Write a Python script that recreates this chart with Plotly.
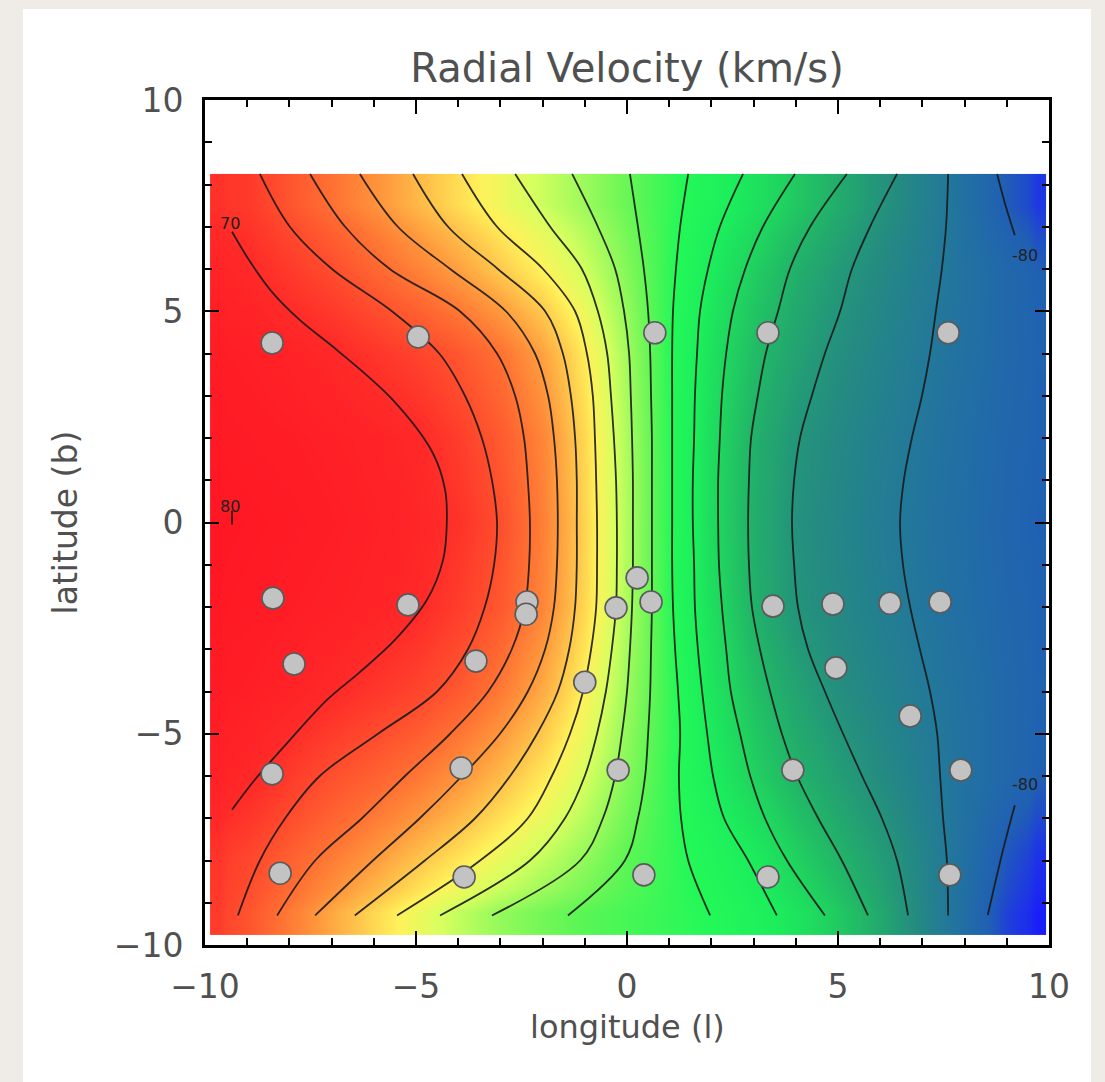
import plotly.graph_objects as go

TITLE = "Radial Velocity (km/s)"
X_TITLE = "longitude (l)"
Y_TITLE = "latitude (b)"
TICK_VALS = [-10, -5, 0, 5, 10]

# ---- velocity map (km/s) sampled on a grid (cell edges + values) ----
LON_EDGES = [-9.88, -9.5, -8.5, -7.5, -6.5, -5.5, -4.5, -3.5, -2.5, -1.5, -0.5,
             0.5, 1.5, 2.5, 3.5, 4.5, 5.5, 6.5, 7.5, 8.5, 9.5, 9.93]
LAT_EDGES = [-9.75, -8.7, -7, -5, -3, -1, 1, 3, 5, 6.8, 8.25]
VEL_GRID = [
    [65, 57.6, 46.8, 35.9, 25.5, 15.6, 6.5, -1.1, -6.7, -11.2, -14.2, -17.1, -20.2, -26.5, -33.9, -43, -53.1, -64.1, -74.1, -84.5, -91],
    [67, 62, 54.5, 47.2, 39.8, 31.7, 24, 15.9, 7.5, -1, -10.3, -16.8, -23.7, -31.3, -41.2, -49.6, -57, -65.1, -73.3, -81.3, -87],
    [75, 71.5, 65, 58.7, 53.7, 48.1, 40.7, 32, 22.2, 10, -3.9, -17.1, -29.5, -40.8, -49.7, -56.3, -62.3, -67.7, -72.4, -76.6, -79.5],
    [78, 76.5, 74, 70.5, 66.3, 62.1, 55.9, 46.9, 35.1, 19.3, 0, -16.6, -33.2, -45.8, -54.7, -61.2, -65.3, -69.3, -73, -76.5, -78.5],
    [79.5, 78.5, 77, 75.5, 73.5, 70.8, 64.2, 56.2, 43.9, 25.4, 3.2, -18.2, -36.1, -50.4, -59.5, -63.6, -67.3, -70.8, -74, -77, -79],
    [80.3, 79.5, 78.5, 77, 75, 72.5, 67.7, 59, 45.5, 26.2, 3.7, -18.5, -37.3, -51.2, -60.4, -64.3, -68.2, -71.5, -74.5, -77.5, -79.5],
    [79, 78, 77, 75.5, 73.5, 71, 64.1, 55.6, 43.8, 25.1, 2.8, -18.5, -36.7, -50.5, -59.1, -63.4, -67.2, -70.7, -74, -77, -79],
    [77.5, 76.2, 74, 71, 66.7, 62.4, 56.7, 49.1, 37.3, 20.9, 1.0, -18.7, -34.9, -46.9, -55.1, -61.2, -65.3, -69.3, -73, -76.5, -78.5],
    [74, 71, 65.5, 60, 52.8, 45.7, 38.3, 29.4, 20.1, 9.1, -4.1, -17.9, -30.9, -41.9, -51, -57.8, -63.1, -67.8, -72.3, -76.5, -79.5],
    [68, 65.4, 57.2, 49.1, 41, 32.7, 24.4, 16.1, 8, 0, -8.5, -17, -25.9, -34.7, -43.4, -51.8, -59.5, -66.2, -73.1, -80.5, -86],
]

# ---- iso-velocity lines ----
ISO_LAT = [8.25, 7.0, 6.0, 5.0, 4.0, 3.0, 2.0, 1.0, 0.0, -1.0, -2.0, -3.0, -4.0, -5.0, -6.0, -7.0, -8.0, -9.3]
ISO_LON = {
    60:  [-8.70, -7.99, -6.99, -5.57, -4.45, -3.84, -3.44, -3.20, -3.08, -3.15, -3.37, -3.77, -4.50, -5.90, -7.28, -8.10, -8.70, -9.22],
    50:  [-7.51, -6.68, -5.62, -3.96, -3.08, -2.65, -2.44, -2.35, -2.30, -2.32, -2.42, -2.73, -3.29, -4.19, -5.26, -6.28, -7.39, -8.29],
    40:  [-6.33, -5.43, -4.19, -2.87, -2.18, -1.87, -1.73, -1.66, -1.64, -1.66, -1.73, -1.94, -2.35, -3.01, -3.91, -4.91, -6.02, -7.39],
    30:  [-5.07, -4.24, -3.06, -1.94, -1.52, -1.33, -1.23, -1.19, -1.19, -1.19, -1.23, -1.37, -1.64, -2.13, -2.77, -3.60, -4.79, -6.45],
    20:  [-3.91, -3.08, -1.99, -1.23, -0.95, -0.81, -0.76, -0.73, -0.71, -0.71, -0.73, -0.85, -1.04, -1.35, -1.78, -2.35, -3.48, -5.45],
    10:  [-2.65, -1.82, -1.07, -0.69, -0.47, -0.38, -0.31, -0.26, -0.24, -0.24, -0.26, -0.36, -0.50, -0.71, -1.00, -1.47, -2.30, -4.43],
    0:   [-1.30, -0.69, -0.28, -0.07, 0.05, 0.09, 0.12, 0.14, 0.14, 0.14, 0.12, 0.07, 0.00, -0.12, -0.28, -0.57, -1.11, -3.20],
    -10: [0.07, 0.26, 0.40, 0.50, 0.55, 0.57, 0.59, 0.59, 0.59, 0.59, 0.59, 0.57, 0.55, 0.50, 0.43, 0.26, -0.05, -1.40],
    -20: [1.45, 1.26, 1.16, 1.09, 1.07, 1.07, 1.07, 1.07, 1.07, 1.07, 1.09, 1.14, 1.21, 1.26, 1.23, 1.28, 1.45, 1.97],
    -30: [2.75, 2.20, 1.92, 1.73, 1.66, 1.61, 1.59, 1.56, 1.56, 1.59, 1.61, 1.68, 1.78, 1.90, 2.04, 2.30, 2.87, 3.55],
    -40: [3.98, 3.22, 2.80, 2.51, 2.35, 2.25, 2.20, 2.16, 2.16, 2.18, 2.25, 2.35, 2.46, 2.68, 2.92, 3.27, 3.79, 4.69],
    -50: [5.21, 4.34, 3.86, 3.58, 3.29, 3.10, 2.94, 2.89, 2.87, 2.89, 2.96, 3.15, 3.39, 3.67, 4.03, 4.53, 5.09, 5.71],
    -60: [6.40, 5.76, 5.33, 5.05, 4.69, 4.38, 4.10, 3.96, 3.91, 3.96, 4.05, 4.29, 4.69, 5.12, 5.57, 6.04, 6.40, 6.66],
    -70: [7.61, 7.56, 7.46, 7.32, 7.18, 6.99, 6.75, 6.56, 6.47, 6.54, 6.71, 6.94, 7.18, 7.35, 7.42, 7.49, 7.58, 7.61],
}
ISO70_LON = [-9.36, -8.93, -8.39, -7.75, -6.87, -5.55, -4.60, -4.31, -4.27, -4.36, -4.74, -5.50, -6.33, -7.11, -7.99, -8.82, -9.36]
ISO70_LAT = [6.88, 6.17, 5.43, 4.79, 4.08, 2.90, 1.64, 0.77, -0.01, -0.89, -1.83, -2.78, -3.54, -4.20, -5.15, -6.09, -6.80]
ISO80_LON = [-9.36, -9.36]
ISO80_LAT = [0.28, -0.05]
ISO_M80_TOP_LON = [8.77, 8.96, 9.19]
ISO_M80_TOP_LAT = [8.25, 7.54, 6.80]
ISO_M80_BOT_LON = [9.19, 8.91, 8.55]
ISO_M80_BOT_LAT = [-6.69, -7.75, -9.29]

LABEL_TEXT = ["70", "80", "-80", "-80"]
LABEL_LON = [-9.41, -9.41, 9.43, 9.43]
LABEL_LAT = [7.07, 0.37, 6.31, -6.19]

# ---- observed fields ----
FIELD_L = [-8.41, -4.95, 0.66, 3.34, 7.61, 0.24, -8.39, -5.19, -2.37, -2.39, -0.26, 0.57, 3.46, 4.88,
           6.23, 7.42, -7.89, -3.58, -1.00, 4.95, 6.71, -8.41, -3.93, -0.21, 3.93, 7.91, -8.22, -3.86,
           0.40, 3.34, 7.65]
FIELD_B = [4.25, 4.39, 4.49, 4.49, 4.49, -1.31, -1.79, -1.95, -1.88, -2.17, -2.02, -1.88, -1.98, -1.93,
           -1.91, -1.88, -3.35, -3.28, -3.78, -3.44, -4.58, -5.95, -5.81, -5.86, -5.86, -5.86, -8.30, -8.39,
           -8.34, -8.39, -8.34]

# ---- colour table (velocity -> colour) ----
ZMIN, ZMAX = -92, 82
COLOR_STOPS = [
    (-92, "rgb(25,25,255)"),
    (-86, "rgb(30,55,228)"),
    (-80, "rgb(32,95,180)"),
    (-72, "rgb(34,115,160)"),
    (-62, "rgb(36,140,128)"),
    (-50, "rgb(34,178,105)"),
    (-40, "rgb(32,212,95)"),
    (-30, "rgb(28,238,92)"),
    (-20, "rgb(35,248,88)"),
    (-10, "rgb(95,246,85)"),
    (0, "rgb(155,250,92)"),
    (10, "rgb(215,255,95)"),
    (20, "rgb(255,242,90)"),
    (30, "rgb(255,196,75)"),
    (40, "rgb(255,150,60)"),
    (50, "rgb(255,110,50)"),
    (60, "rgb(255,75,45)"),
    (70, "rgb(255,42,40)"),
    (82, "rgb(255,20,35)"),
]
colorscale = [[(v - ZMIN) / (ZMAX - ZMIN), c] for v, c in COLOR_STOPS]

FONT = "DejaVu Sans"
TEXT_COLOR = "#505050"
LINE_COLOR = "rgba(25,25,25,0.9)"

fig = go.Figure()
fig.add_trace(go.Heatmap(x=LON_EDGES, y=LAT_EDGES, z=VEL_GRID, zmin=ZMIN, zmax=ZMAX,
                         colorscale=colorscale, zsmooth="best", showscale=False,
                         hoverinfo="skip"))

for lev, lons in ISO_LON.items():
    fig.add_trace(go.Scatter(x=lons, y=ISO_LAT, mode="lines", name=str(lev),
                             line=dict(color=LINE_COLOR, width=1.8, shape="spline", smoothing=1.0),
                             hoverinfo="skip", showlegend=False))
for lx, ly in [(ISO70_LON, ISO70_LAT), (ISO80_LON, ISO80_LAT),
               (ISO_M80_TOP_LON, ISO_M80_TOP_LAT), (ISO_M80_BOT_LON, ISO_M80_BOT_LAT)]:
    fig.add_trace(go.Scatter(x=lx, y=ly, mode="lines",
                             line=dict(color=LINE_COLOR, width=1.8, shape="spline", smoothing=1.0),
                             hoverinfo="skip", showlegend=False))

fig.add_trace(go.Scatter(x=FIELD_L, y=FIELD_B, mode="markers", showlegend=False,
                         marker=dict(size=22, color="#c3c3c3",
                                     line=dict(color="#5a5a5a", width=1.6))))

for t, lx, ly in zip(LABEL_TEXT, LABEL_LON, LABEL_LAT):
    fig.add_annotation(x=lx, y=ly, text=t, showarrow=False,
                       font=dict(family=FONT, size=16, color="#222222"))

axis_common = dict(
    range=[-10, 10], tickvals=TICK_VALS, ticks="inside", ticklen=14, tickwidth=2,
    tickcolor="black", showline=True, linewidth=3, linecolor="black", mirror="allticks",
    showgrid=False, zeroline=False,
    minor=dict(dtick=1, ticks="inside", ticklen=7, tickwidth=2, tickcolor="black", showgrid=False),
    tickfont=dict(family=FONT, size=33, color=TEXT_COLOR),
)

fig.update_layout(
    width=1105, height=1082,
    margin=dict(l=205, r=56, t=100, b=137, autoexpand=False),
    paper_bgcolor="#efece7", plot_bgcolor="white",
    title=dict(text=TITLE, x=0.5, xref="paper", y=1 - 68 / 1082, yref="container",
               xanchor="center", yanchor="middle",
               font=dict(family=FONT, size=40, color=TEXT_COLOR)),
    xaxis=dict(axis_common, ticklabelstandoff=10),
    yaxis=dict(axis_common, ticklabelstandoff=12),
    showlegend=False,
)
# axis titles placed as annotations (paper coordinates relative to the plot area)
fig.add_annotation(text=X_TITLE, xref="paper", yref="paper", x=0.5, y=(945 - 1027) / 845,
                   xanchor="center", yanchor="middle", showarrow=False,
                   font=dict(family=FONT, size=32, color=TEXT_COLOR))
fig.add_annotation(text=Y_TITLE, xref="paper", yref="paper", x=(65 - 205) / 844, y=0.5,
                   xanchor="center", yanchor="middle", showarrow=False, textangle=-90,
                   font=dict(family=FONT, size=33, color=TEXT_COLOR))
fig.add_shape(type="rect", xref="paper", yref="paper",
              x0=(23 - 205) / 844, x1=(1091 - 205) / 844,
              y0=(945 - 1082) / 845, y1=(945 - 9) / 845,
              fillcolor="white", line=dict(width=0), layer="below")

fig.write_html("out.html")
